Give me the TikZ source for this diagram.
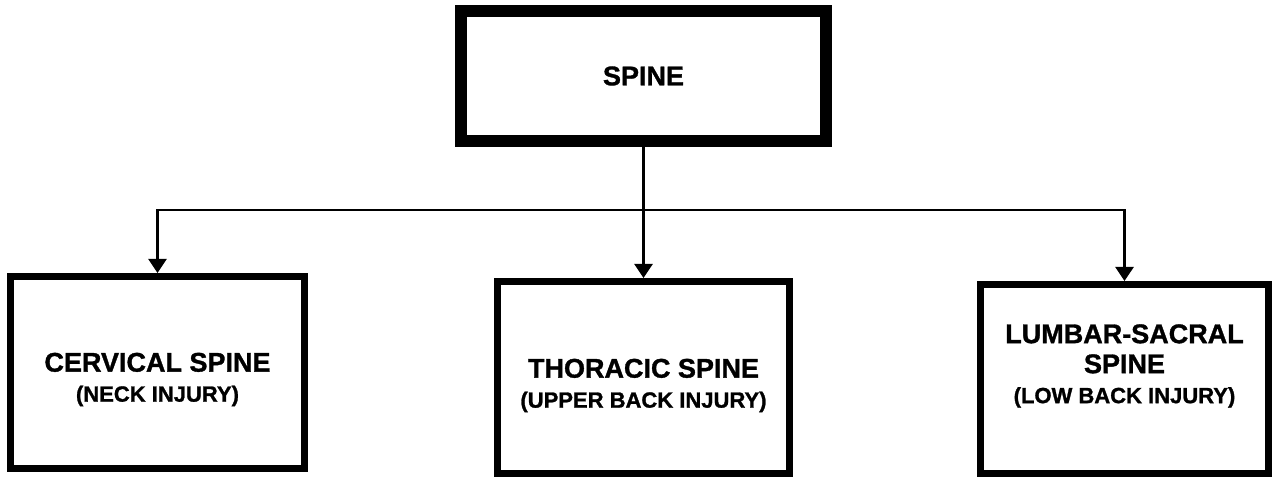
\documentclass[tikz,border=0pt]{standalone}
\usepackage{fontspec}
\setmainfont{Liberation Sans}[BoldFeatures={FakeBold=1.2}]
\usetikzlibrary{arrows.meta}
\newcommand\injury[1]{{\fontsize{22}{30}\selectfont #1}}

\begin{document}
\begin{tikzpicture}[
  x=1pt,y=1pt,
  rootbox/.style={draw,line width=12pt,minimum width=365pt,minimum height=130pt,font=\bfseries\fontsize{27}{30}\selectfont},
  partbox/.style={draw,line width=7pt,minimum height=192pt},
  parttext/.style={align=center,inner sep=0pt,font=\bfseries\fontsize{27}{30}\selectfont},
  link/.style={line width=2.5pt},
  arrow/.style={link,-{Triangle[length=14pt,width=18pt]}}
]
\useasboundingbox (0,0) rectangle (1274,477);
\node[rootbox] (spine) at (643.5,401) {SPINE};
\node[partbox,minimum width=294pt] (cervical) at (157.5,104.5) {};
\node[partbox,minimum width=292pt] (thoracic) at (643.5,99.5) {};
\node[partbox,minimum width=288pt,minimum height=189pt] (lumbar) at (1124.5,98) {};
\node[parttext] (cervicallabel) at ([yshift=-7pt]cervical.center) {CERVICAL SPINE\\\injury{(NECK INJURY)}};
\node[parttext] (thoraciclabel) at ([yshift=-8pt]thoracic.center) {THORACIC SPINE\\\injury{(UPPER BACK INJURY)}};
\node[parttext] (lumbarlabel) at ([yshift=13pt]lumbar.center) {LUMBAR-SACRAL\\SPINE\\\injury{(LOW BACK INJURY)}};
\draw[link] (spine.south) -- ++(0,-63) coordinate (fork);
\draw[arrow] (fork) -| (cervical.north);
\draw[arrow] (fork) -- (thoracic.north);
\draw[arrow] (fork) -| (lumbar.north);
\end{tikzpicture}
\end{document}
